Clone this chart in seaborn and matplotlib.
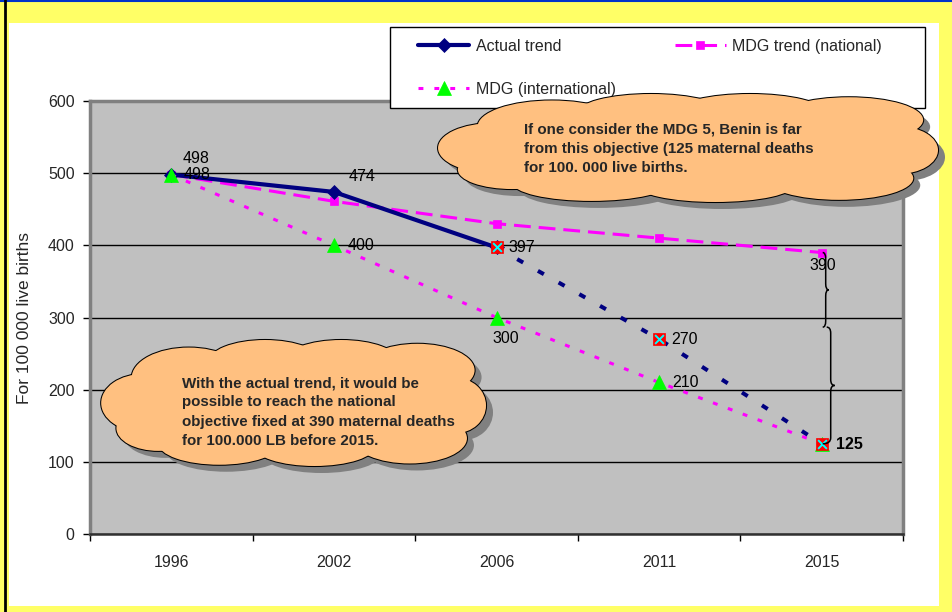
import numpy as np
import pandas as pd
import matplotlib
matplotlib.use("Agg")
import matplotlib.pyplot as plt
import seaborn as sns
from matplotlib.patches import Ellipse, Rectangle, PathPatch
from matplotlib.path import Path
from matplotlib.lines import Line2D

# ---- data -------------------------------------------------------------
years = ["1996", "2002", "2006", "2011", "2015"]
actual_years = ["1996", "2002", "2006"]
actual = [498, 474, 397]
projection_years = ["2006", "2011", "2015"]
projection = [397, 270, 125]
national = [498, 461, 430, 410, 390]
international = [498, 400, 300, 210, 125]

legend_labels = ["Actual trend", "MDG (international)", "MDG trend (national)"]
ylabel = "For 100 000 live births"
note_mdg = ("If one consider the MDG 5, Benin is far\n"
            "from this objective (125 maternal deaths\n"
            "for 100. 000 live births.")
note_national = ("With the actual trend, it would be\n"
                 "possible to reach the national\n"
                 "objective fixed at 390 maternal deaths\n"
                 "for 100.000 LB before 2015.")

# ---- style ------------------------------------------------------------
sns.set_theme(style="white")
plt.rcParams["font.family"] = ["Liberation Sans", "DejaVu Sans"]

NAVY = "#000080"
MAGENTA = "#FF00FF"
GREEN = "#00FF00"
ORANGE = "#FFC080"
PLOT_GREY = "#C0C0C0"

W, H = 952, 612
fig = plt.figure(figsize=(W / 100, H / 100), dpi=100, facecolor="#FFFF66")


def fig_rect(l, t, r, b):
    return [l / W, 1 - b / H, (r - l) / W, (b - t) / H]


# white panel with border lines
fig.patches.append(Rectangle((9 / W, 1 - 606 / H), (939 - 9) / W, (606 - 23) / H,
                             transform=fig.transFigure, facecolor="white",
                             edgecolor="none", zorder=-1))
fig.add_artist(Line2D([0, 1], [1 - 0.8 / H] * 2, transform=fig.transFigure,
                      color="#0033CC", lw=1.5))
fig.add_artist(Line2D([5 / W] * 2, [0, 1], transform=fig.transFigure,
                      color="black", lw=2))

# ---- main axes --------------------------------------------------------
ax = fig.add_axes(fig_rect(90, 101, 903, 534))
ax.set_facecolor(PLOT_GREY)
pos = {y: i for i, y in enumerate(years)}

df_nat = pd.DataFrame({"x": [pos[y] for y in years], "v": national})
df_int = pd.DataFrame({"x": [pos[y] for y in years], "v": international})
df_act = pd.DataFrame({"x": [pos[y] for y in actual_years], "v": actual})
df_proj = pd.DataFrame({"x": [pos[y] for y in projection_years], "v": projection})

sns.lineplot(data=df_nat, x="x", y="v", ax=ax, color=MAGENTA, lw=2.2,
             linestyle=(0, (5.5, 2.6)), marker="s", markersize=5.5,
             markeredgecolor=MAGENTA, markeredgewidth=0.5)
sns.lineplot(data=df_act, x="x", y="v", ax=ax, color=NAVY, lw=3,
             marker="D", markersize=7, markeredgecolor=NAVY, markeredgewidth=0.5)
sns.lineplot(data=df_int, x="x", y="v", ax=ax, color=MAGENTA, lw=2.2,
             linestyle=(0, (1.6, 3.6)), marker="^", markersize=10,
             markerfacecolor=GREEN, markeredgecolor=GREEN, markeredgewidth=0.5)
sns.lineplot(data=df_proj, x="x", y="v", ax=ax, color=NAVY, lw=2.9,
             linestyle=(0, (1.7, 4.2)), marker="s", markersize=9,
             markerfacecolor="#FF0000", markeredgecolor="#FF0000", markeredgewidth=0.5)
sns.scatterplot(data=df_proj, x="x", y="v", ax=ax, marker="x", s=40,
                color="#00FFFF", linewidth=1.4, zorder=5)

l_nat, l_act, l_int = ax.lines[0], ax.lines[1], ax.lines[2]

ax.set_xlim(-0.5, 4.5)
ax.set_ylim(0, 600)
ax.set_yticks(range(0, 601, 100))
ax.set_xticks(range(len(years)))
ax.set_xticklabels(years)
ax.set_xticks(np.arange(-0.5, len(years), 1), minor=True)
ax.set_xlabel("")
ax.set_ylabel("")
ax.tick_params(axis="x", which="major", length=0, pad=15, labelsize=11.5)
ax.tick_params(axis="x", which="minor", length=5, width=1, color="black",
               direction="out", bottom=True)
ax.tick_params(axis="y", length=5, width=1, color="black", direction="out",
               left=True, pad=6, labelsize=11.5)
ax.yaxis.grid(True, color="black", lw=1)
ax.xaxis.grid(False)
ax.set_axisbelow(True)
for side in ("left", "top", "right"):
    ax.spines[side].set_color("#808080")
    ax.spines[side].set_linewidth(2.5)
ax.spines["bottom"].set_color("#303030")
ax.spines["bottom"].set_linewidth(1.8)

fig.text(25 / W, 1 - 318 / H, ylabel, rotation=90, ha="center", va="center",
         fontsize=12.5)

# ---- value labels -----------------------------------------------------
label_specs = [
    # (x values, y values, index, dx, dy, ha, weight)
    (actual_years, actual, 0, 11, 16, "left", "normal"),
    (years, national, 0, 12, 0, "left", "normal"),
    (actual_years, actual, 1, 15, 15, "left", "normal"),
    (years, international, 1, 14, 0, "left", "normal"),
    (actual_years, actual, 2, 12, 0, "left", "normal"),
    (years, international, 2, 9, -21, "center", "normal"),
    (projection_years, projection, 1, 12, 0, "left", "normal"),
    (years, international, 3, 13, 0, "left", "normal"),
    (years, national, 4, 1, -13, "center", "normal"),
    (projection_years, projection, 2, 14, -1, "left", "bold"),
]
for xs, vals, i, dx, dy, ha, wt in label_specs:
    ax.annotate(str(vals[i]), (pos[xs[i]], vals[i]), xytext=(dx, dy),
                textcoords="offset pixels", ha=ha, va="center",
                fontsize=11.5, fontweight=wt, color="black", zorder=6)

# ---- legend -----------------------------------------------------------
fig.patches.append(Rectangle((390 / W, 1 - 108 / H), (925 - 390) / W, (108 - 27) / H,
                             transform=fig.transFigure, facecolor="white",
                             edgecolor="black", lw=1, zorder=1))
leg = fig.legend(handles=[l_act, l_int, l_nat], labels=legend_labels, ncol=2,
                 loc="upper left", bbox_to_anchor=(418 / W, 1 - 39 / H),
                 frameon=False, fontsize=11.5, handlelength=3.2,
                 handletextpad=0.4, columnspacing=3.7, labelspacing=1.75,
                 borderaxespad=0, borderpad=0)
leg.set_zorder(2)

# ---- callout clouds and brace (pixel coordinates) ----------------------
ov = fig.add_axes([0, 0, 1, 1], zorder=10)
ov.set_xlim(0, W)
ov.set_ylim(H, 0)
ov.axis("off")
ov.patch.set_alpha(0)

CLOUD_LOBES = [
    (0.50, 0.52, 0.80, 0.66),
    (0.10, 0.50, 0.22, 0.46),
    (0.22, 0.30, 0.30, 0.48),
    (0.42, 0.18, 0.30, 0.36),
    (0.62, 0.17, 0.30, 0.34),
    (0.82, 0.24, 0.30, 0.42),
    (0.92, 0.52, 0.16, 0.44),
    (0.80, 0.78, 0.30, 0.40),
    (0.55, 0.84, 0.32, 0.32),
    (0.30, 0.82, 0.32, 0.34),
    (0.14, 0.70, 0.22, 0.36),
]


def cloud(x0, y0, x1, y1, shadow=7):
    w, h = x1 - x0, y1 - y0
    lobes = [(x0 + cx * w, y0 + cy * h, ew * w, eh * h) for cx, cy, ew, eh in CLOUD_LOBES]
    for cx, cy, ew, eh in lobes:
        ov.add_patch(Ellipse((cx + shadow, cy + shadow), ew, eh, fc="#808080", ec="none"))
    for cx, cy, ew, eh in lobes:
        ov.add_patch(Ellipse((cx, cy), ew, eh, fc=ORANGE, ec="black", lw=1.5))
    for cx, cy, ew, eh in lobes:
        ov.add_patch(Ellipse((cx, cy), ew, eh, fc=ORANGE, ec="none"))


cloud(443, 94, 938, 202)
ov.text(524, 149, note_mdg, ha="left", va="center", fontsize=10.9, fontweight="bold",
        linespacing=1.47)
cloud(105, 340, 486, 466)
ov.text(182, 412, note_national, ha="left", va="center", fontsize=10.9,
        fontweight="bold", linespacing=1.47)


def to_px(xv, yv):
    dx, dy = ax.transData.transform((xv, yv))
    return dx, H - dy


def brace(x0, ytop, ybot, w, tip_frac=0.5, xend=None):
    ymid = ytop + (ybot - ytop) * tip_frac
    r = min(6, (ybot - ytop) / 5)
    xe = x0 if xend is None else xend
    verts = [(x0, ytop), (x0 + w, ytop), (x0 + w, ytop + r),
             (x0 + w, ymid - r), (x0 + w, ymid), (x0 + 2 * w, ymid),
             (x0 + w, ymid), (x0 + w, ymid + r),
             (x0 + w, ybot - r), (x0 + w, ybot), (xe, ybot)]
    codes = [Path.MOVETO, Path.CURVE3, Path.CURVE3, Path.LINETO, Path.CURVE3,
             Path.CURVE3, Path.CURVE3, Path.CURVE3, Path.LINETO, Path.CURVE3,
             Path.CURVE3]
    ov.add_patch(PathPatch(Path(verts, codes), fc="none", ec="black", lw=1.1))


bx, btop = to_px(pos[years[-1]], national[-1])
_, bbot = to_px(pos[projection_years[-1]], projection[-1])
bsplit = btop + (bbot - btop) * 0.39
brace(bx + 1, btop, bsplit, 3)
brace(bx + 5, bsplit, bbot, 4, xend=bx + 1)

fig.savefig("out.png", dpi=100, facecolor=fig.get_facecolor())
